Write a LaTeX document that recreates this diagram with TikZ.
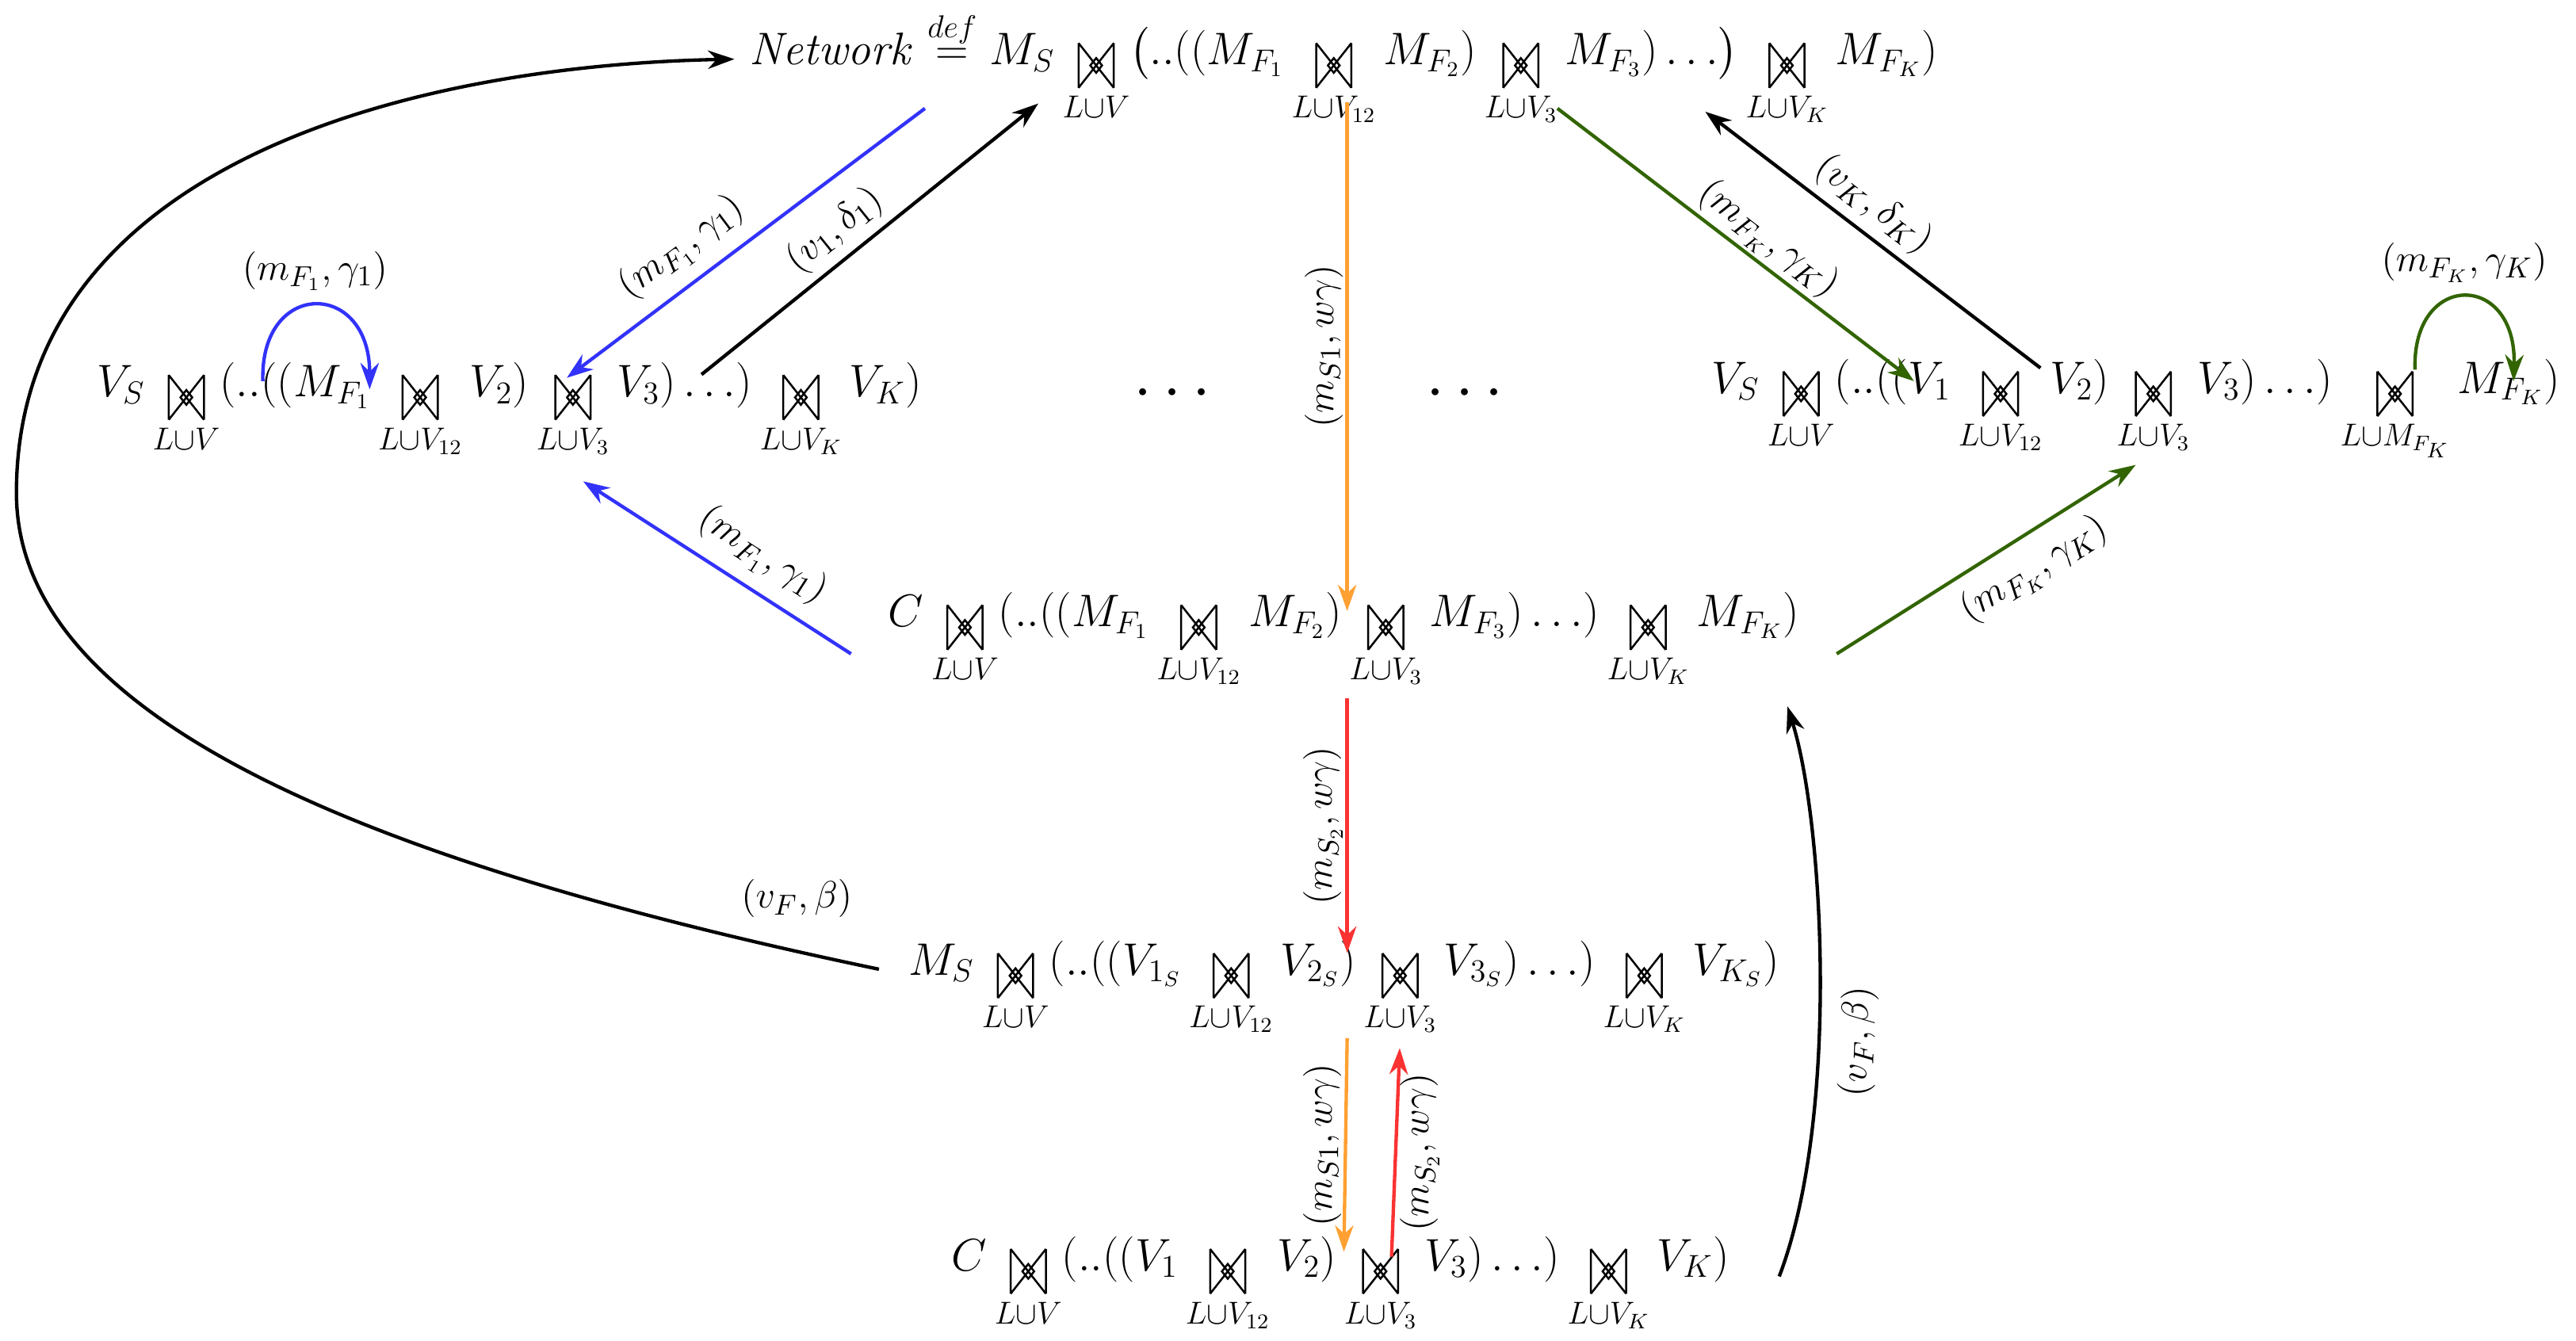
\documentclass[tikz,border=0pt]{standalone}
\usepackage{amsmath,amssymb}
\usetikzlibrary{arrows.meta}
\definecolor{cblue}{RGB}{50,50,250}
\definecolor{corange}{RGB}{255,160,50}
\definecolor{cgreen}{RGB}{50,100,0}
\definecolor{cred}{RGB}{250,50,50}
\newcommand{\jsym}{\tikz[baseline={(0,-0.4)},line width=0.75pt,x=1.25ex,y=1.4ex]{\draw (0,0.85)--(0,-0.85) (1.5,0.85)--(1.5,-0.85) (0,0.85)--(1.5,-0.85) (0,-0.85)--(1.5,0.85) (0.75,0.28)--(1.0,0)--(0.75,-0.28)--(0.5,0)--cycle;}}
\newcommand{\jn}[1]{\mathop{\jsym}\limits_{#1}}
\begin{document}
\begin{tikzpicture}[x=0.622pt,y=-0.622pt,
  txt/.style={inner sep=0pt,font=\fontsize{16.5}{19}\selectfont},
  lab/.style={inner sep=1pt,font=\fontsize{15}{18}\selectfont},
  arr/.style={line width=1.3pt,-{Stealth[length=10pt,width=7pt]}}]
\useasboundingbox (0,0) rectangle (1568,816);
\node[txt] (top) at (818,42) {$\mathit{Network}\overset{def}{=}M_S\jn{L\cup V}\bigl(..((M_{F_1}\jn{L\cup V_{12}}M_{F_2})\jn{L\cup V_3}M_{F_3})\ldots\bigr)\jn{L\cup V_K}M_{F_K})$};
\node[txt] (left) at (310,250) {$V_S\jn{L\cup V}(..((M_{F_1}\jn{L\cup V_{12}}V_2)\jn{L\cup V_3}V_3)\ldots)\jn{L\cup V_K}V_K)$};
\node[txt,font=\Huge] (d1) at (717,240) {$\cdots$};
\node[txt,font=\Huge] (d2) at (895,240) {$\cdots$};
\node[txt] (right) at (1300,250) {$V_S\jn{L\cup V}(..((V_1\jn{L\cup V_{12}}V_2)\jn{L\cup V_3}V_3)\ldots)\jn{L\cup M_{F_K}}M_{F_K})$};
\node[txt] (c1) at (818,390) {$C\jn{L\cup V}(..((M_{F_1}\jn{L\cup V_{12}}M_{F_2})\jn{L\cup V_3}M_{F_3})\ldots)\jn{L\cup V_K}M_{F_K})$};
\node[txt] (ms) at (818,602) {$M_S\jn{L\cup V}(..((V_{1_S}\jn{L\cup V_{12}}V_{2_S})\jn{L\cup V_3}V_{3_S})\ldots)\jn{L\cup V_K}V_{K_S})$};
\node[txt] (c2) at (816,782) {$C\jn{L\cup V}(..((V_1\jn{L\cup V_{12}}V_2)\jn{L\cup V_3}V_3)\ldots)\jn{L\cup V_K}V_K)$};
% coordinates
\coordinate (a1) at (563,66); \coordinate (a2) at (345,230);
\coordinate (b1) at (427,228); \coordinate (b2) at (632,63);
\coordinate (l1) at (160,232); \coordinate (l2) at (225,237);
\coordinate (o1) at (820,62); \coordinate (o2) at (820,372);
\coordinate (g1) at (948,66); \coordinate (g2) at (1165,232);
\coordinate (k1) at (1242,224); \coordinate (k2) at (1038,68);
\coordinate (r1) at (1470,225); \coordinate (r2) at (1530,232);
\coordinate (e1) at (518,398); \coordinate (e2) at (355,293);
\coordinate (f1) at (1118,398); \coordinate (f2) at (1300,283);
\coordinate (h1) at (820,425); \coordinate (h2) at (820,580);
\coordinate (p1) at (820,632); \coordinate (p2) at (818,762);
\coordinate (q1) at (847,765); \coordinate (q2) at (852,638);
\coordinate (u1) at (535,590); \coordinate (u2) at (447,36);
\coordinate (w1) at (1083,777); \coordinate (w2) at (1088,430);
\draw[arr,cblue] (a1) -- node[lab,above,sloped,black,pos=0.62,yshift=4pt]{$(m_{F_1},\gamma_1)$} (a2);
\draw[arr] (b1) -- node[lab,above,sloped,pos=0.45,yshift=2pt]{$(v_1,\delta_1)$} (b2);
\draw[arr,cblue] (l1) .. controls (158,170) and (225,170) .. node[lab,above,black,yshift=4pt]{$(m_{F_1},\gamma_1)$} (l2);
\draw[arr,corange] (o1) -- node[lab,black,rotate=90,anchor=south,pos=0.48]{$(m_{S1},w\gamma)$} (o2);
\draw[arr,cgreen] (g1) -- node[lab,above,sloped,black,pos=0.55,yshift=0pt]{$(m_{F_K},\gamma_K)$} (g2);
\draw[arr] (k1) -- node[lab,above,sloped,pos=0.55,yshift=2pt]{$(v_K,\delta_K)$} (k2);
\draw[arr,cgreen] (r1) .. controls (1468,165) and (1532,165) .. node[lab,above,black,yshift=4pt]{$(m_{F_K},\gamma_K)$} (r2);
\draw[arr,cblue] (e1) -- node[lab,above,sloped,black,pos=0.4,yshift=4pt]{$(m_{F_1},\gamma_1)$} (e2);
\draw[arr,cgreen] (f1) -- node[lab,below,sloped,black,pos=0.6,yshift=-4pt]{$(m_{F_K},\gamma_K)$} (f2);
\draw[arr,cred] (h1) -- node[lab,black,rotate=90,anchor=south,pos=0.5]{$(m_{S_2},w\gamma)$} (h2);
\draw[arr,corange] (p1) -- node[lab,black,rotate=90,anchor=south,pos=0.5]{$(m_{S1},w\gamma)$} (p2);
\draw[arr,cred] (q1) -- node[lab,black,rotate=90,anchor=north,pos=0.5]{$(m_{S_2},w\gamma)$} (q2);
\draw[arr] (u1) .. controls (200,520) and (10,430) .. (10,300) .. controls (10,100) and (250,40) .. (u2);
\node[lab] (vf1) at (485,547) {$(v_F,\beta)$};
\draw[arr] (w1) .. controls (1120,680) and (1110,500) .. node[lab,sloped,below,pos=0.4,yshift=-6pt]{$(v_F,\beta)$} (w2);
\end{tikzpicture}
\end{document}
